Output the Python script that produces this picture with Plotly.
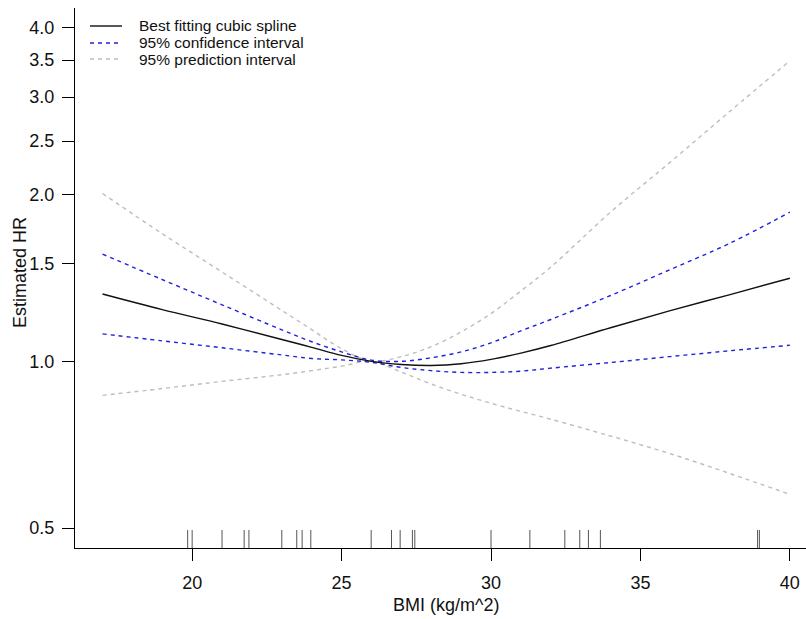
import plotly.graph_objects as go
import numpy as np

# BMI grid at which the fitted curve and its intervals are reported
bmi = [17, 19, 21, 23, 24, 25, 26, 27, 28, 29, 30, 31, 32, 34, 36, 38, 40]

# Estimated hazard ratio from the restricted cubic spline
hr_fit = [1.323, 1.24, 1.168, 1.095, 1.06, 1.025, 1.0, 0.987, 0.983, 0.99,
          1.008, 1.035, 1.068, 1.15, 1.235, 1.32, 1.413]

# 95% confidence interval
ci_upper = [1.562, 1.405, 1.265, 1.14, 1.085, 1.04, 1.005, 1.0, 1.015, 1.04,
            1.08, 1.135, 1.19, 1.315, 1.465, 1.635, 1.86]
ci_lower = [1.121, 1.089, 1.058, 1.027, 1.012, 1.006, 0.996, 0.975, 0.962, 0.955,
            0.955, 0.96, 0.972, 0.995, 1.02, 1.045, 1.069]

# 95% prediction interval
pi_upper = [2.01, 1.70, 1.45, 1.236, 1.141, 1.054, 1.0, 1.02, 1.063, 1.13,
            1.22, 1.34, 1.48, 1.86, 2.29, 2.83, 3.49]
pi_lower = [0.868, 0.893, 0.92, 0.946, 0.962, 0.98, 1.0, 0.956, 0.91, 0.872,
            0.84, 0.812, 0.786, 0.733, 0.681, 0.627, 0.575]

# Observed BMI values shown as a rug along the x axis
rug_bmi = [19.85, 20.0, 21.0, 21.74, 21.9, 23.0, 23.5, 23.68, 23.97, 25.99,
           26.67, 26.96, 27.37, 27.45, 30.0, 31.3, 32.47, 32.97, 33.26, 33.66,
           38.92, 38.98]

x_ticks = [20, 25, 30, 35, 40]
y_ticks = [0.5, 1.0, 1.5, 2.0, 2.5, 3.0, 3.5, 4.0]
y_ticktext = ["0.5", "1.0", "1.5", "2.0", "2.5", "3.0", "3.5", "4.0"]

legend_names = ["Best fitting cubic spline", "95% confidence interval",
                "95% prediction interval"]

BLACK = "#111111"
BLUE = "#2222dd"
GREY = "#bdbdbd"
FONT = "Liberation Sans, Arial, sans-serif"

fig = go.Figure()

dash = "4px,4px"
fig.add_trace(go.Scatter(x=bmi, y=pi_upper, mode="lines", line_shape="spline",
                         line=dict(color=GREY, width=1.4, dash=dash),
                         showlegend=False, hoverinfo="skip"))
fig.add_trace(go.Scatter(x=bmi, y=pi_lower, mode="lines", line_shape="spline",
                         line=dict(color=GREY, width=1.4, dash=dash),
                         showlegend=False, hoverinfo="skip"))
fig.add_trace(go.Scatter(x=bmi, y=ci_upper, mode="lines", line_shape="spline",
                         line=dict(color=BLUE, width=1.4, dash=dash),
                         showlegend=False, hoverinfo="skip"))
fig.add_trace(go.Scatter(x=bmi, y=ci_lower, mode="lines", line_shape="spline",
                         line=dict(color=BLUE, width=1.4, dash=dash),
                         showlegend=False, hoverinfo="skip"))
fig.add_trace(go.Scatter(x=bmi, y=hr_fit, mode="lines", line_shape="spline",
                         line=dict(color=BLACK, width=1.4),
                         showlegend=False, hoverinfo="skip"))

# Rug: short vertical segments on an overlaid linear axis
rug_x, rug_y = [], []
for v in rug_bmi:
    rug_x += [v, v, None]
    rug_y += [0, 18 / 540, None]
fig.add_trace(go.Scatter(x=rug_x, y=rug_y, yaxis="y2", mode="lines",
                         line=dict(color="#555555", width=1),
                         showlegend=False, hoverinfo="skip"))

# Hand-placed key in the top-left corner
plot_w, plot_h = 731, 540
key_rows = [26, 43, 59]
key_styles = [dict(color=BLACK, width=1.4),
              dict(color=BLUE, width=1.4, dash=dash),
              dict(color=GREY, width=1.4, dash=dash)]
for name, row, style in zip(legend_names, key_rows, key_styles):
    yp = (548 - row) / plot_h
    fig.add_shape(type="line", xref="paper", yref="paper",
                  x0=(90 - 75) / plot_w, x1=(122 - 75) / plot_w, y0=yp, y1=yp,
                  line=style)
    fig.add_annotation(xref="paper", yref="paper", x=(137 - 75) / plot_w, y=yp,
                       text=name, showarrow=False, xanchor="left", yanchor="middle",
                       font=dict(family=FONT, size=15.5, color="#111111"))

# Axis titles
fig.add_annotation(xref="paper", yref="paper", x=(446 - 75) / plot_w,
                   y=(548 - 605) / plot_h, text="BMI (kg/m^2)", showarrow=False,
                   xanchor="center", yanchor="middle",
                   font=dict(family=FONT, size=18, color="#111111"))
fig.add_annotation(xref="paper", yref="paper", x=(20 - 75) / plot_w,
                   y=(548 - 273) / plot_h, text="Estimated HR", showarrow=False,
                   textangle=-90, xanchor="center", yanchor="middle",
                   font=dict(family=FONT, size=18, color="#111111"))

fig.update_layout(
    width=806, height=619,
    margin=dict(l=75, r=0, t=8, b=71),
    paper_bgcolor="white", plot_bgcolor="white",
    font=dict(family=FONT, size=18, color="#111111"),
    xaxis=dict(range=[16.08, 40.54], tickvals=x_ticks, ticks="outside",
               ticklen=12, tickwidth=1, tickcolor="black",
               showline=True, linecolor="black", linewidth=1,
               showgrid=False, zeroline=False, ticklabelstandoff=6,
               tickfont=dict(family=FONT, size=18, color="#111111")),
    yaxis=dict(type="log", range=[np.log10(0.5) - 0.0361, np.log10(4) + 0.0361],
               tickvals=y_ticks, ticktext=y_ticktext, ticks="outside",
               ticklen=12, tickwidth=1, tickcolor="black",
               showline=True, linecolor="black", linewidth=1,
               showgrid=False, zeroline=False, ticklabelstandoff=4,
               tickfont=dict(family=FONT, size=18, color="#111111")),
    yaxis2=dict(overlaying="y", range=[0, 1], visible=False),
)

fig.write_html("out.html")
